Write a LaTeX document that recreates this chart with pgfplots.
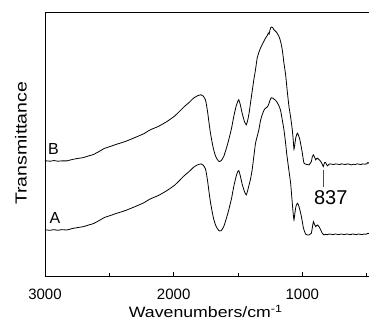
\documentclass[border=0pt]{standalone}
\usepackage{fontspec}
\setmainfont{Liberation Sans}
\usepackage{pgfplots}
\usepackage{pgfplotstable}
\pgfplotsset{compat=1.18}
\usepackage{graphicx}

\pgfplotstableread{
wn y
3000 347
2987 347
2960 346
2930 348
2900 346
2870 347
2831 347
2790 351
2750 354
2701 357
2660 362
2624 366
2580 375
2540 384
2494 390
2450 396
2400 402
2363 407
2300 417
2234 428
2182 440
2120 450
2052 465
1990 482
1922 508
1880 522
1845 535
1815 542
1787 545
1770 541
1753 530
1745 515
1735 490
1725 460
1714 430
1700 400
1689 380
1675 362
1662 352
1650 346
1642 345
1630 348
1611 360
1590 385
1572 410
1550 445
1533 480
1515 510
1502 525
1494 530
1482 515
1468 490
1450 465
1436 455
1425 468
1414 490
1403 520
1390 555
1377 590
1364 620
1351 655
1338 672
1325 685
1312 695
1299 705
1286 715
1273 722
1264 730
1258 727
1252 738
1247 745
1240 748
1230 746
1221 740
1200 732
1182 720
1169 705
1156 680
1143 640
1130 605
1117 555
1104 510
1091 478
1078 440
1070 405
1065 382
1058 398
1050 418
1039 430
1030 424
1019 410
1010 392
1000 370
993 352
987 340
975 337
960 336
948 335
938 340
930 345
922 360
914 365
907 360
896 350
889 354
883 355
875 352
865 349
857 345
848 339
837 330
832 337
826 342
819 342
812 336
805 332
795 336
785 338
770 337
755 336
740 338
725 337
710 336
695 338
680 337
665 336
650 338
635 337
620 335
605 337
590 336
575 338
560 337
545 336
530 338
515 337
500 338
490 342
482 340
}\dataB

\pgfplotstableread{
wn y
3000 140
2987 140
2960 139
2930 141
2900 139
2870 141
2831 140
2790 144
2750 147
2701 150
2660 155
2624 159
2580 168
2540 177
2494 183
2450 189
2400 195
2363 200
2300 210
2234 221
2182 233
2120 243
2052 258
1990 275
1922 301
1880 315
1845 328
1815 335
1787 338
1770 334
1753 323
1745 308
1735 283
1725 253
1714 223
1700 193
1689 173
1675 155
1662 145
1650 139
1642 137
1630 138
1611 150
1590 175
1572 200
1550 235
1533 270
1515 300
1502 315
1494 318
1482 302
1468 278
1450 255
1436 245
1425 258
1414 275
1403 292
1390 320
1377 360
1364 400
1351 420
1338 440
1325 468
1312 485
1299 498
1286 505
1273 508
1266 513
1260 518
1252 528
1242 536
1230 535
1220 532
1200 525
1182 512
1169 498
1156 470
1143 440
1130 400
1122 370
1105 320
1091 280
1078 220
1070 185
1065 170
1058 190
1050 210
1039 220
1030 215
1019 200
1010 185
1000 165
993 148
987 140
975 128
960 125
948 125
938 128
930 130
922 148
914 165
907 158
896 150
889 153
883 155
875 152
870 150
857 140
848 132
840 128
831 125
820 127
805 126
790 128
775 127
760 126
745 128
730 127
715 126
700 128
685 127
670 126
655 128
640 127
625 126
610 128
595 127
580 126
565 128
550 127
535 126
520 128
505 127
490 130
482 129
}\dataA

\begin{document}
\begin{tikzpicture}
\useasboundingbox (-45bp,-50.3bp) rectangle (324bp,276.7bp);
\begin{axis}[
  scale only axis,
  width=324bp, height=264.7bp,
  x dir=reverse,
  xmin=482, xmax=3000,
  ymin=0, ymax=793,
  axis lines*=left,
  axis line style={line width=0.9bp},
  clip=false,
  xtick={1000,2000,3000},
  minor xtick={500,1500,2500},
  ytick=\empty,
  tick align=inside,
  xtick pos=bottom,
  major tick length=5bp,
  minor tick length=4bp,
  every tick/.style={black, line width=0.7bp},
  /pgf/number format/assume math mode=true,
  /pgf/number format/1000 sep={},
  xticklabel style={font=\fontsize{15bp}{17bp}\selectfont, anchor=base, yshift=-22.3bp},
]
\addplot[black, line width=0.8bp, smooth, tension=0.3] table[x=wn,y=y] {\dataB};
\addplot[black, line width=0.8bp, smooth, tension=0.3] table[x=wn,y=y] {\dataA};
\draw[line width=0.9bp] (rel axis cs:0,1) -- (rel axis cs:1,1);
\draw[black!70, line width=0.6bp] (axis cs:838,320) -- (axis cs:838,269);
\node[font=\fontsize{20bp}{22bp}\selectfont] at (axis cs:779,237) {837};
\node[font=\fontsize{16bp}{18bp}\selectfont] at (axis cs:2935,384) {B};
\node[font=\fontsize{16bp}{18bp}\selectfont] at (axis cs:2922,176) {A};
\node[anchor=base, font=\fontsize{15bp}{17bp}\selectfont] at ([yshift=-41bp]rel axis cs:0.496,0) {\scalebox{1.18}[1]{Wavenumbers/cm\textsuperscript{-1}}};
\node[anchor=base, rotate=90, font=\fontsize{16bp}{18bp}\selectfont] at ([xshift=-18.3bp]rel axis cs:0,0.504) {\scalebox{1.22}[1]{Transmittance}};
\end{axis}
\end{tikzpicture}
\end{document}
